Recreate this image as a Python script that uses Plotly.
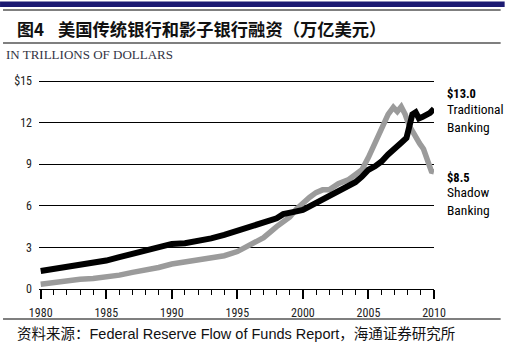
import plotly.graph_objects as go

# ---------------- data ----------------
trad_years = [1980, 1981, 1982, 1983, 1984, 1985, 1986, 1987, 1988, 1989, 1990, 1991, 1992,
              1993, 1994, 1995, 1996, 1997, 1998, 1998.5, 1999, 1999.5, 2000, 2000.5, 2001,
              2001.5, 2002, 2002.5, 2003, 2003.5, 2004, 2004.5, 2005, 2005.5, 2006, 2006.5,
              2007, 2007.5, 2007.9, 2008.1, 2008.35, 2008.6, 2008.85, 2009.1, 2009.4, 2009.7, 2010]
trad_vals = [1.3, 1.45, 1.6, 1.75, 1.88, 2.05, 2.3, 2.55, 2.75, 3.0, 3.25, 3.3, 3.45,
             3.65, 3.9, 4.2, 4.4, 4.7, 5.1, 5.4, 5.45, 5.6, 5.7, 5.95, 6.2,
             6.35, 6.6, 6.85, 7.1, 7.4, 7.7, 8.1, 8.6, 8.85, 9.2, 9.7,
             10.2, 10.55, 10.9, 11.8, 12.6, 12.75, 12.3, 12.4, 12.5, 12.7, 13.0]

shadow_years = [1980, 1981, 1982, 1983, 1984, 1985, 1986, 1987, 1988, 1989, 1990, 1991, 1992,
                1993, 1994, 1995, 1996, 1997, 1998, 1999, 1999.5, 2000, 2000.5, 2001, 2001.5,
                2002, 2002.7, 2003.5, 2004, 2004.5, 2005, 2005.5, 2006, 2006.5, 2006.9, 2007.2,
                2007.5, 2007.8, 2008.1, 2008.5, 2008.9, 2009.2, 2009.6, 2009.8, 2010]
shadow_vals = [0.35, 0.5, 0.65, 0.7, 0.75, 0.85, 1.0, 1.2, 1.35, 1.55, 1.8, 1.95, 2.05,
               2.2, 2.4, 2.7, 3.2, 3.7, 4.5, 5.2, 5.75, 6.2, 6.6, 6.95, 7.15,
               7.15, 7.6, 7.9, 8.2, 8.6, 9.5, 10.5, 11.6, 12.6, 13.1, 12.8,
               13.15, 12.6, 11.8, 11.1, 10.5, 10.1, 9.0, 8.5, 8.45]

y_tickvals = [0, 3, 6, 9, 12, 15]
y_ticktext = ["0", "3", "6", "9", "12", "$15"]
x_tickvals = [1980, 1985, 1990, 1995, 2000, 2005, 2010]

title_num = "图4"
title_text = "美国传统银行和影子银行融资（万亿美元）"
unit_text = "IN TRILLIONS OF DOLLARS"
source_text = "资料来源：Federal Reserve Flow of Funds Report，海通证券研究所"
trad_label_val, trad_label = "$13.0", "Traditional<br>Banking"
shadow_label_val, shadow_label = "$8.5", "Shadow<br>Banking"

# ---------------- layout geometry ----------------
W, H = 512, 351
L, R, T, B = 39, 77.7, 77, 62
PW, PH = W - L - R, H - T - B


def px(x):
    return (x - L) / PW


def py(y):
    return (H - B - y) / PH


NARROW = "Roboto Condensed, DejaVu Sans Condensed, sans-serif"
CJK = "Noto Sans CJK SC, sans-serif"

fig = go.Figure()
fig.add_trace(go.Scatter(x=shadow_years, y=shadow_vals, mode="lines",
                         line=dict(color="#9b9b9b", width=5.5), showlegend=False))
fig.add_trace(go.Scatter(x=trad_years, y=trad_vals, mode="lines",
                         line=dict(color="#000000", width=6), showlegend=False))

shapes = [
    dict(type="rect", xref="paper", yref="paper", x0=px(0), x1=px(505), y0=py(7), y1=py(1.5),
         fillcolor="#1c1a72", line=dict(width=0)),
    dict(type="line", xref="paper", yref="paper", x0=px(3), x1=px(501), y0=py(10), y1=py(10),
         line=dict(color="#000000", width=1.2)),
    dict(type="line", xref="paper", yref="paper", x0=px(3), x1=px(501), y0=py(43), y1=py(43),
         line=dict(color="#000000", width=1.2)),
    dict(type="line", xref="paper", yref="paper", x0=px(3), x1=px(501), y0=py(319), y1=py(319),
         line=dict(color="#000000", width=1.2)),
]


def note(text, x, y, family, size, color="#000000", align="left"):
    return dict(text=text, x=px(x), y=py(y), xref="paper", yref="paper",
                xanchor="left", yanchor="middle", showarrow=False, align=align,
                font=dict(family=family, size=size, color=color))


annotations = [
    note("<b>" + title_num + "</b>", 15, 28.5, CJK, 17, "#111111"),
    note("<b>" + title_text + "</b>", 56, 28.5, CJK, 17.3, "#111111"),
    note(unit_text, 4, 55, "Liberation Serif, serif", 13, "#333344"),
    note(source_text, 15, 334, "Liberation Sans, " + CJK, 14.5, "#111111"),
    note("<b>" + trad_label_val + "</b>", 445, 93, NARROW, 12.5),
    note(trad_label, 445, 118, NARROW, 13.5),
    note("<b>" + shadow_label_val + "</b>", 445, 177.5, NARROW, 12.5),
    note(shadow_label, 445, 200.5, NARROW, 13.5),
]

fig.update_layout(
    width=W, height=H,
    margin=dict(l=L, r=R, t=T, b=B, pad=0),
    paper_bgcolor="white", plot_bgcolor="white",
    shapes=shapes, annotations=annotations,
    xaxis=dict(range=[1979.87, 2010.0], tickmode="array", tickvals=x_tickvals,
               ticks="outside", ticklen=9, tickwidth=1.5, tickcolor="#000000",
               showline=True, linecolor="#000000", linewidth=1.2,
               showgrid=False, zeroline=False,
               tickfont=dict(family=NARROW, size=12, color="#222222"),
               ticklabelstandoff=3,
               minor=dict(dtick=1, tick0=1980, ticks="outside", ticklen=5, tickwidth=1,
                          tickcolor="#000000", showgrid=False)),
    yaxis=dict(range=[0, 15.29], tickmode="array", tickvals=y_tickvals, ticktext=y_ticktext,
               showgrid=True, gridcolor="#000000", gridwidth=1, zeroline=False,
               ticks="", showline=False,
               tickfont=dict(family=NARROW, size=12, color="#222222"),
               ticklabelstandoff=6),
)

fig.write_html("out.html")
